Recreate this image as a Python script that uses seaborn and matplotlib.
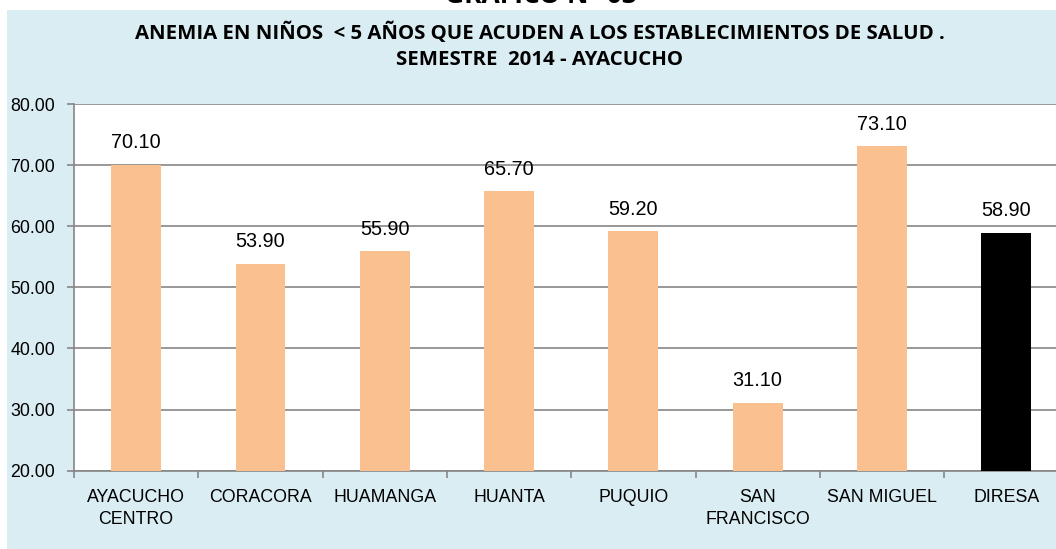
import matplotlib
matplotlib.use("Agg")
import matplotlib.pyplot as plt
from matplotlib.patches import Rectangle
from matplotlib.ticker import FixedLocator, MultipleLocator
import seaborn as sns
import pandas as pd

categories = ["AYACUCHO\nCENTRO", "CORACORA", "HUAMANGA", "HUANTA", "PUQUIO",
              "SAN\nFRANCISCO", "SAN MIGUEL", "DIRESA"]
values = [70.10, 53.90, 55.90, 65.70, 59.20, 31.10, 73.10, 58.90]
bar_colors = ["#FAC090"] * 7 + ["#000000"]
title_top = "GRAFICO N° 03"
title_lines = ["ANEMIA EN NIÑOS  < 5 AÑOS QUE ACUDEN A LOS ESTABLECIMIENTOS DE SALUD .",
               "SEMESTRE  2014 - AYACUCHO"]

sns.set_theme(style="white")
plt.rcParams['font.family'] = ["Liberation Sans", "DejaVu Sans"]
plt.rcParams['text.color'] = "black"

W, H = 1056, 549
fig = plt.figure(figsize=(W / 100, H / 100), dpi=100)
fig.patch.set_facecolor("white")

panel = Rectangle((7 / W, 0), 1 - 7 / W, 1 - 10 / H, transform=fig.transFigure,
                  facecolor="#DAEDF3", edgecolor="none", zorder=-5)
fig.patches.append(panel)

ax_left, ax_bottom = 74 / W, (H - 470.7) / H
ax_h = (470.7 - 104) / H
ax_w = 8 * 124.3 / W
ax = fig.add_axes([ax_left, ax_bottom, ax_w, ax_h])
ax.set_zorder(1)
ax.set_facecolor("white")

df = pd.DataFrame({"cat": categories, "val": values})
sns.barplot(data=df, x="cat", y="val", hue="cat", palette=bar_colors,
            legend=False, width=0.4, saturation=1, linewidth=0, ax=ax, zorder=3)

ax.set_ylim(20, 80)
ax.set_xlim(-0.5, len(categories) - 0.5)
ax.yaxis.set_major_locator(MultipleLocator(10))
ax.set_yticklabels([f"{v:.2f}" for v in ax.get_yticks()], fontsize=12.8, color="#000000")
ax.set_xlabel("")
ax.set_ylabel("")

ax.grid(axis="y", color="#868686", linewidth=1.2, zorder=1)
ax.set_axisbelow(True)
for s in ["top", "right"]:
    ax.spines[s].set_visible(False)
for s in ["left", "bottom"]:
    ax.spines[s].set_color("#868686")
    ax.spines[s].set_linewidth(1.2)

ax.tick_params(axis="y", which="major", direction="out", length=5, width=1.2,
               color="#868686", pad=8.5, left=True)
ax.tick_params(axis="x", which="major", length=0, pad=13)
ax.xaxis.set_minor_locator(FixedLocator([i - 0.5 for i in range(len(categories) + 1)]))
ax.tick_params(axis="x", which="minor", direction="out", length=5, width=1.2,
               color="#868686", bottom=True)
for lab in ax.get_xticklabels():
    lab.set_fontsize(12.8)
    lab.set_linespacing(1.4)
    lab.set_color("#000000")

for cont in ax.containers:
    ax.bar_label(cont, fmt="%.2f", padding=9, fontsize=14.3, color="#000000")

fig.text(541 / W, 1 - 3 / H, title_top, ha="center", va="baseline",
         fontsize=19, fontweight="bold", fontfamily="Open Sans", color="black")
fig.text(540 / W, 1 - 33 / H, title_lines[0], ha="center", va="center",
         fontsize=14.7, fontweight="bold", fontfamily="Open Sans", color="black")
fig.text(540 / W, 1 - 60 / H, title_lines[1], ha="center", va="center",
         fontsize=14.7, fontweight="bold", fontfamily="Open Sans", color="black")

fig.savefig("out.png", dpi=100, facecolor=fig.get_facecolor())
